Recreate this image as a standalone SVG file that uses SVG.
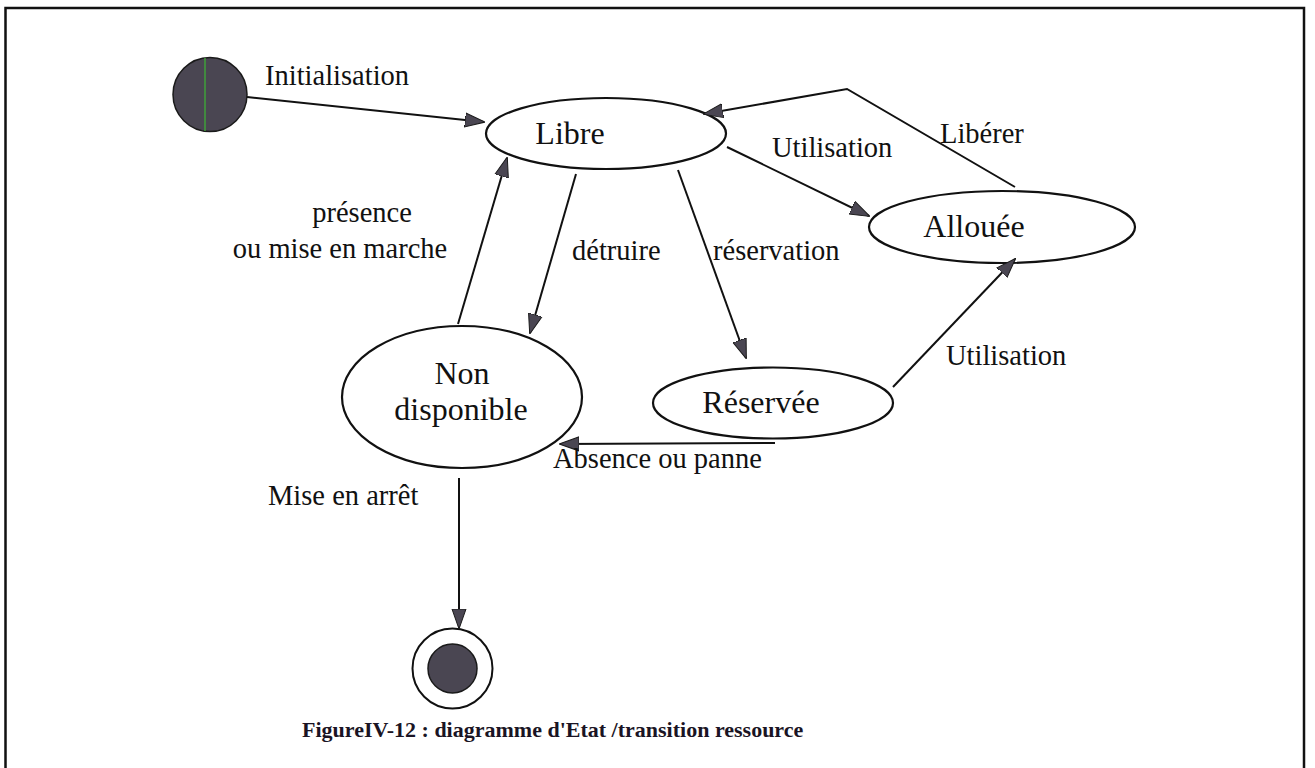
<svg xmlns="http://www.w3.org/2000/svg" width="1315" height="768" viewBox="0 0 1315 768">
  <style>
    .frame { fill: #ffffff; stroke: #111111; stroke-width: 2.5; }
    .state { fill: #ffffff; stroke: #111111; stroke-width: 2.2; }
    .pseudo { fill: #4a4652; stroke: #1a1a1a; stroke-width: 1.5; }
    .edge { fill: none; stroke: #111111; stroke-width: 2; marker-end: url(#head); }
    .edge-plain { fill: none; stroke: #111111; stroke-width: 2; }
    .name { font-family: "Liberation Serif", "Times New Roman", serif; font-size: 32px; fill: #111111; text-anchor: middle; }
    .lbl { font-family: "Liberation Serif", "Times New Roman", serif; font-size: 28.5px; fill: #111111; }
    .caption { font-family: "Liberation Serif", "Times New Roman", serif; font-size: 22px; font-weight: bold; fill: #1a1424; }
  </style>
  <defs>
    <marker id="head" markerUnits="userSpaceOnUse" markerWidth="20" markerHeight="16" viewBox="0 0 20 16" refX="19" refY="8" orient="auto">
      <path d="M0,1 L20,8 L0,15 Z" fill="#4a4652" stroke="#1a1a1a" stroke-width="1"/>
    </marker>
  </defs>

  <!-- outer frame -->
  <rect class="frame" x="5.5" y="8" width="1298.5" height="770"/>

  <!-- initial pseudo-state -->
  <g id="initial">
    <circle class="pseudo" cx="210" cy="94.5" r="37"/>
    <line x1="205" y1="58" x2="205" y2="131" stroke="#3fa03a" stroke-width="1.5"/>
  </g>

  <!-- states -->
  <g id="libre">
    <ellipse class="state" cx="606" cy="133.5" rx="120" ry="35.5"/>
    <text class="name" x="570" y="144">Libre</text>
  </g>
  <g id="allouee">
    <ellipse class="state" cx="1002" cy="227" rx="133" ry="36"/>
    <text class="name" x="974" y="237">Allouée</text>
  </g>
  <g id="non-disponible">
    <ellipse class="state" cx="462" cy="397" rx="120" ry="71"/>
    <text class="name" x="462" y="384">Non</text>
    <text class="name" x="461" y="420">disponible</text>
  </g>
  <g id="reservee">
    <ellipse class="state" cx="773" cy="403" rx="120" ry="35.5"/>
    <text class="name" x="761" y="413">Réservée</text>
  </g>

  <!-- final pseudo-state -->
  <g id="final">
    <circle cx="452.5" cy="668.5" r="40" fill="#ffffff" stroke="#111111" stroke-width="2"/>
    <circle class="pseudo" cx="452.5" cy="668.5" r="24.5"/>
  </g>

  <!-- transitions -->
  <g id="connectors">
    <line class="edge" x1="247" y1="97" x2="484" y2="122"/>
    <polyline class="edge" points="1015,187 847,89 704,114"/>
    <line class="edge" x1="727" y1="147" x2="869" y2="216"/>
    <line class="edge" x1="458" y1="324" x2="507" y2="158"/>
    <line class="edge" x1="576" y1="174" x2="530" y2="333"/>
    <line class="edge" x1="678" y1="170" x2="746" y2="358"/>
    <line class="edge" x1="893" y1="387" x2="1015" y2="259"/>
    <line class="edge" x1="775" y1="443" x2="560" y2="444"/>
    <line class="edge" x1="459" y1="478" x2="459" y2="628"/>
  </g>

  <!-- transition labels -->
  <g id="labels">
    <text class="lbl" x="265" y="85">Initialisation</text>
    <text class="lbl" x="772" y="157">Utilisation</text>
    <text class="lbl" x="940" y="143">Libérer</text>
    <text class="lbl" x="362" y="222" text-anchor="middle">présence</text>
    <text class="lbl" x="340" y="258" text-anchor="middle">ou mise en marche</text>
    <text class="lbl" x="572" y="260">détruire</text>
    <text class="lbl" x="713" y="260">réservation</text>
    <text class="lbl" x="946" y="365">Utilisation</text>
    <text class="lbl" x="553" y="468">Absence ou panne</text>
    <text class="lbl" x="268" y="505">Mise en arrêt</text>
  </g>

  <text class="caption" x="302" y="737">FigureIV-12 : diagramme d'Etat /transition ressource</text>
</svg>
